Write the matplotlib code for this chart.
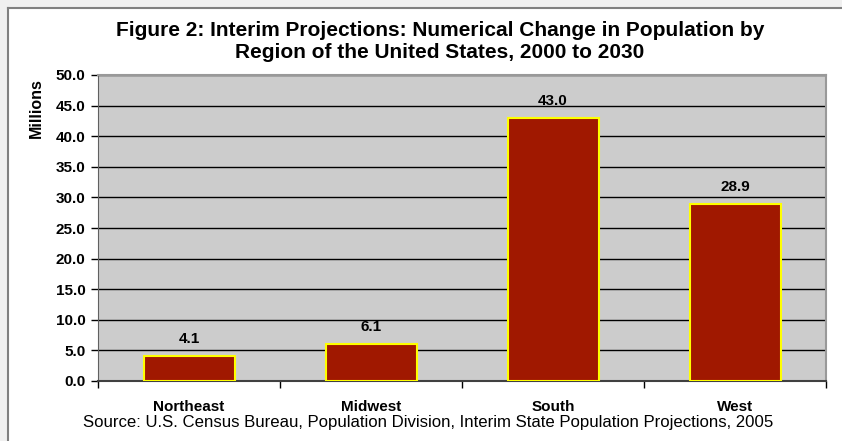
import matplotlib.pyplot as plt
from matplotlib.patches import Rectangle
from matplotlib.lines import Line2D

regions = ['Northeast', 'Midwest', 'South', 'West']
change = [4.1, 6.1, 43.0, 28.9]
yticks = [0, 5, 10, 15, 20, 25, 30, 35, 40, 45, 50]

W, H = 842, 441
fig = plt.figure(figsize=(W / 100, H / 100), dpi=100)
fig.patch.set_facecolor('#f0f0f0')

# white chart panel with a grey frame on the top and left
fig.patches.append(Rectangle((8 / W, 0), 1, 1 - 8 / H, transform=fig.transFigure,
                             facecolor='white', edgecolor='none', zorder=-10))
fig.lines.append(Line2D([8 / W, 1], [1 - 8 / H, 1 - 8 / H], transform=fig.transFigure,
                        color='#808080', lw=1.5, zorder=-5))
fig.lines.append(Line2D([8 / W, 8 / W], [0, 1 - 8 / H], transform=fig.transFigure,
                        color='#808080', lw=1.5, zorder=-5))

left, right, top, bottom = 98, 826, 75, 381
ax = fig.add_axes([left / W, 1 - bottom / H, (right - left) / W, (bottom - top) / H])
ax.set_facecolor('#cccccc')

x = range(len(regions))
ax.bar(x, change, width=0.5, color='#a01800', edgecolor='#ffff00', linewidth=1.5, zorder=3)
for xi, v in zip(x, change):
    ax.text(xi, v + 1.6, f'{v:.1f}', ha='center', va='bottom', fontsize=11,
            fontweight='bold', family='Liberation Sans')

ax.set_xlim(-0.5, len(regions) - 0.5)
ax.set_ylim(0, 50)
ax.set_yticks(yticks)
ax.set_yticklabels([f'{t:.1f}' for t in yticks])
ax.set_xticks(x)
ax.set_xticklabels(regions)
ax.set_xticks([i + 0.5 for i in range(-1, len(regions))], minor=True)
ax.tick_params(axis='x', which='major', length=0, pad=14)
ax.tick_params(axis='x', which='minor', length=5, width=1, color='black')
ax.tick_params(axis='y', length=5, width=1, pad=4)
for lab in ax.get_xticklabels() + ax.get_yticklabels():
    lab.set_fontweight('bold')
    lab.set_fontsize(11)
    lab.set_family('Liberation Sans')

ax.yaxis.grid(True, color='black', lw=1, zorder=1)
ax.set_axisbelow(True)
for s in ['top', 'right']:
    ax.spines[s].set_color('#999999')
    ax.spines[s].set_linewidth(1.5)
ax.spines['left'].set_color('#606060')
ax.spines['bottom'].set_color('#404040')
ax.spines['bottom'].set_linewidth(1.5)

ax.set_ylabel('Millions', fontsize=11.5, fontweight='bold', family='Liberation Sans')
ax.yaxis.set_label_coords(-0.074, 0.892)

fig.text(440 / W, 1 - 41 / H,
         'Figure 2: Interim Projections: Numerical Change in Population by\nRegion of the United States, 2000 to 2030',
         ha='center', va='center', fontsize=15, fontweight='bold',
         family='Liberation Sans', linespacing=1.2)
fig.text(428 / W, 1 - 422 / H,
         'Source: U.S. Census Bureau, Population Division, Interim State Population Projections, 2005',
         ha='center', va='center', fontsize=12.1, family='Liberation Sans')

fig.savefig('out.png', dpi=100, facecolor=fig.get_facecolor())
